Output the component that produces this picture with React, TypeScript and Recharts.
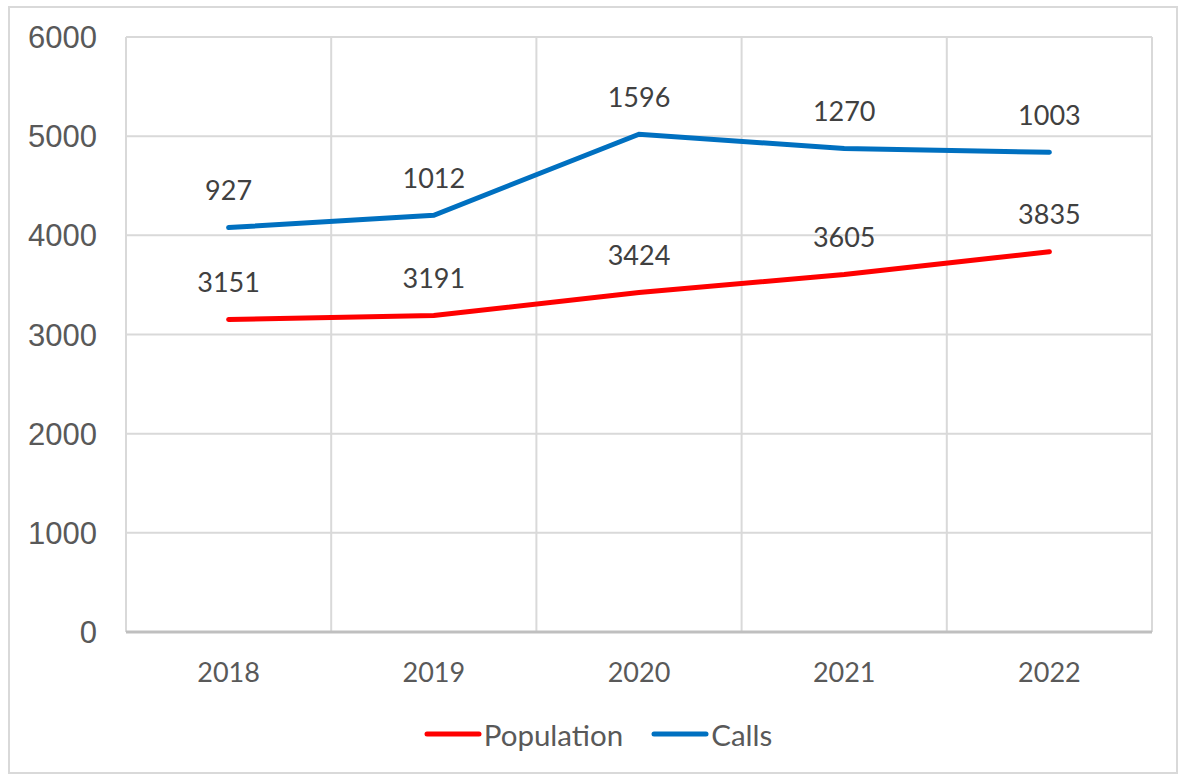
import React from "react";
import {
  ComposedChart,
  Area,
  XAxis,
  YAxis,
  CartesianGrid,
  Legend,
} from "recharts";

const years = ["2018", "2019", "2020", "2021", "2022"];
const population = [3151, 3191, 3424, 3605, 3835];
const calls = [927, 1012, 1596, 1270, 1003];
const yTicks = [0, 1000, 2000, 3000, 4000, 5000, 6000];

const seriesMeta = [
  { key: "population", name: "Population", color: "#ff0000", values: population },
  { key: "calls", name: "Calls", color: "#0070c0", values: calls },
];

const data = years.map((year, i) => ({
  year,
  population: population[i],
  calls: calls[i],
}));

const LABEL_FONT = "Lato, 'Open Sans', sans-serif";

// value labels sit a fixed distance above each (stacked) point
function makeLabel(values: number[]) {
  return (props: any) => {
    const { x, y, index } = props;
    if (x == null || y == null) return null;
    return (
      <text
        key={index}
        x={x}
        y={y - 38}
        textAnchor="middle"
        dominantBaseline="central"
        fontFamily={LABEL_FONT}
        fontSize={27}
        fill="#404040"
      >
        {values[index]}
      </text>
    );
  };
}

function LegendContent() {
  return (
    <div
      style={{
        display: "flex",
        justifyContent: "center",
        alignItems: "center",
        gap: 28,
        height: 60,
        paddingTop: 8,
        paddingLeft: 34,
        boxSizing: "border-box",
        fontFamily: LABEL_FONT,
        fontSize: 29.5,
        color: "#595959",
      }}
    >
      {seriesMeta.map((s) => (
        <div key={s.key} style={{ display: "flex", alignItems: "center" }}>
          <svg width={58} height={10} style={{ marginRight: 2 }}>
            <line x1={3} y1={5} x2={55} y2={5} stroke={s.color} strokeWidth={5} strokeLinecap="round" />
          </svg>
          <span>{s.name}</span>
        </div>
      ))}
    </div>
  );
}

export default function App() {
  return (
    <div
      style={{
        position: "absolute",
        left: 8,
        top: 6,
        width: 1170,
        height: 768,
        border: "2px solid #d9d9d9",
        background: "#fff",
        boxSizing: "border-box",
      }}
    >
      <ComposedChart
        width={1168}
        height={766}
        data={data}
        margin={{ top: 29, right: 26, left: 0, bottom: 14 }}
      >
        <CartesianGrid
          stroke="#d9d9d9"
          strokeWidth={2}
          verticalCoordinatesGenerator={({ offset }: any) =>
            years.map((_, i) => offset.left + (i * offset.width) / years.length).concat(offset.left + offset.width)
          }
        />
        <XAxis
          dataKey="year"
          scale="band"
          height={68}
          axisLine={{ stroke: "#bfbfbf", strokeWidth: 3 }}
          tickLine={false}
          tickSize={0}
          tickMargin={31}
          tick={{ fontFamily: LABEL_FONT, fontSize: 27, fill: "#595959" }}
        />
        <YAxis
          width={116}
          domain={[0, 6000]}
          ticks={yTicks}
          interval={0}
          axisLine={false}
          tickLine={false}
          tickSize={0}
          tickMargin={29}
          tick={{ fontFamily: "'Liberation Sans', Arial, sans-serif", fontSize: 31, fill: "#595959" }}
        />
        <Legend verticalAlign="bottom" height={60} content={<LegendContent />} />
        {seriesMeta.map((s) => (
          <Area
            key={s.key}
            type="linear"
            dataKey={s.key}
            name={s.name}
            stackId="total"
            stroke={s.color}
            strokeWidth={5}
            strokeLinecap="round"
            fill="none"
            fillOpacity={0}
            dot={false}
            activeDot={false}
            label={makeLabel(s.values)}
            isAnimationActive={false}
          />
        ))}
      </ComposedChart>
    </div>
  );
}
